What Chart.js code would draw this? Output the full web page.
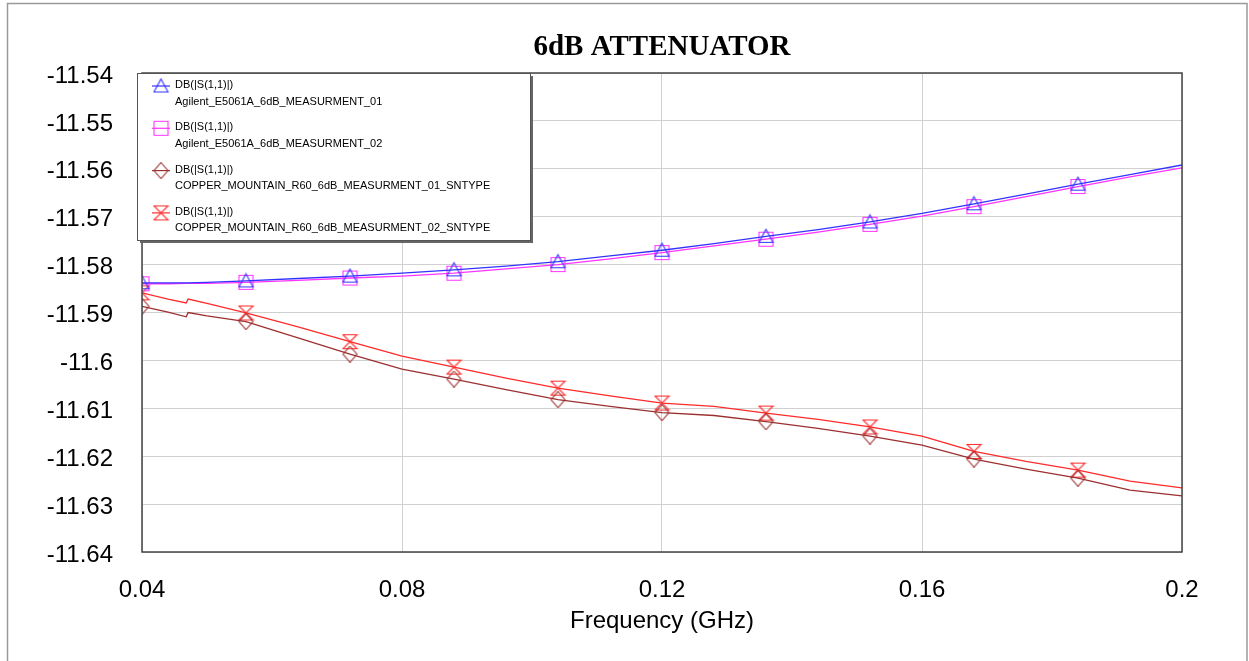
<!DOCTYPE html>
<html>
<head>
<meta charset="utf-8">
<script src="https://cdn.jsdelivr.net/npm/chart.js@4.4.1/dist/chart.umd.min.js"></script>
<style>
html,body{margin:0;padding:0;background:#fff;}
#wrap{width:1249px;height:661px;position:relative;}
canvas{display:block;}
</style>
</head>
<body>
<div id="wrap"><canvas id="c" width="1249" height="661"></canvas></div>
<script>
// ---------- data ----------
const chartTitle = '6dB ATTENUATOR';
const xAxisTitle = 'Frequency (GHz)';
const traceExpression = 'DB(|S(1,1)|)';
const seriesNames = [
  'Agilent_E5061A_6dB_MEASURMENT_01',
  'Agilent_E5061A_6dB_MEASURMENT_02',
  'COPPER_MOUNTAIN_R60_6dB_MEASURMENT_01_SNTYPE',
  'COPPER_MOUNTAIN_R60_6dB_MEASURMENT_02_SNTYPE'
];
const frequencyGHz = [0.04, 0.044, 0.0468, 0.0471, 0.05, 0.056, 0.064, 0.072, 0.08, 0.088, 0.096, 0.104,
  0.112, 0.12, 0.128, 0.136, 0.144, 0.152, 0.16, 0.168, 0.176, 0.184, 0.192, 0.2];
const agilent01 = [-11.5838, -11.5838, -11.5838, -11.5838, -11.5837, -11.5834, -11.5829, -11.5824, -11.5818, -11.5811,
  -11.5803, -11.5794, -11.5782, -11.5770, -11.5756, -11.5741, -11.5727, -11.5711, -11.5693, -11.5673, -11.5653, -11.5632, -11.5612, -11.5592];
const agilent02 = [-11.5840, -11.5840, -11.5839, -11.5839, -11.5839, -11.5837, -11.5833, -11.5828, -11.5824, -11.5818,
  -11.5809, -11.5800, -11.5788, -11.5775, -11.5761, -11.5747, -11.5732, -11.5716, -11.5699, -11.5679, -11.5658, -11.5637, -11.5617, -11.5598];
const copper01 = [-11.5887, -11.5899, -11.5909, -11.5900, -11.5907, -11.5919, -11.5953, -11.5987, -11.6018, -11.6039,
  -11.6061, -11.6082, -11.6096, -11.6109, -11.6115, -11.6128, -11.6142, -11.6158, -11.6177, -11.6206, -11.6227, -11.6246, -11.6271, -11.6283];
const copper02 = [-11.5859, -11.5872, -11.5880, -11.5872, -11.5881, -11.5901, -11.5930, -11.5961, -11.5991, -11.6014,
  -11.6037, -11.6058, -11.6074, -11.6089, -11.6096, -11.6110, -11.6123, -11.6139, -11.6158, -11.6190, -11.6211, -11.6229, -11.6252, -11.6266];
const markerFrequencies = [0.04, 0.056, 0.072, 0.088, 0.104, 0.12, 0.136, 0.152, 0.168, 0.184];
const xTicks = [0.04, 0.08, 0.12, 0.16, 0.2];
const yTicks = [-11.54, -11.55, -11.56, -11.57, -11.58, -11.59, -11.6, -11.61, -11.62, -11.63, -11.64];

// ---------- styles ----------
const colors = ['#3333ff', '#ff33ff', '#9c2f2f', '#ff2a2a'];
const shapes = ['triangle', 'square', 'diamond', 'hourglass'];

function makeMarker(shape, color) {
  const c = document.createElement('canvas');
  c.width = 17; c.height = 17;
  const g = c.getContext('2d');
  g.strokeStyle = color;
  g.lineWidth = 1.1;
  g.beginPath();
  if (shape === 'triangle') {
    g.moveTo(8.5, 1.5); g.lineTo(15.5, 14.5); g.lineTo(1.5, 14.5); g.closePath();
  } else if (shape === 'square') {
    g.rect(1.5, 1.5, 14, 14);
  } else if (shape === 'diamond') {
    g.moveTo(8.5, 0.5); g.lineTo(15.5, 8.5); g.lineTo(8.5, 16.5); g.lineTo(1.5, 8.5); g.closePath();
  } else {
    g.moveTo(1.5, 1.5); g.lineTo(15.5, 1.5); g.lineTo(1.5, 15.5); g.lineTo(15.5, 15.5); g.closePath();
  }
  g.stroke();
  return c;
}

const seriesValues = [agilent01, agilent02, copper01, copper02];
const isMarker = f => markerFrequencies.some(m => Math.abs(m - f) < 1e-9);

const datasets = seriesValues.map((vals, i) => ({
  label: seriesNames[i],
  data: frequencyGHz.map((f, k) => ({ x: f, y: vals[k] })),
  borderColor: colors[i],
  backgroundColor: colors[i],
  borderWidth: 1.3,
  tension: 0,
  pointStyle: makeMarker(shapes[i], colors[i]),
  pointRadius: ctx => (ctx.raw && isMarker(ctx.raw.x)) ? 7 : 0,
  pointHoverRadius: ctx => (ctx.raw && isMarker(ctx.raw.x)) ? 7 : 0
}));

const decor = {
  id: 'decor',
  beforeDraw(chart) {
    const ctx = chart.ctx;
    ctx.save();
    ctx.fillStyle = '#fff';
    ctx.fillRect(0, 0, chart.width, chart.height);
    ctx.strokeStyle = '#9a9a9a';
    ctx.lineWidth = 1.5;
    ctx.strokeRect(7.5, 3.5, 1239.5, 665);
    ctx.restore();
  },
  afterDatasetsDraw(chart) {
    const ctx = chart.ctx;
    const a = chart.chartArea;
    ctx.save();
    ctx.strokeStyle = '#444';
    ctx.lineWidth = 1.5;
    ctx.strokeRect(a.left, a.top, a.right - a.left, a.bottom - a.top);
    ctx.restore();
  },
  afterDraw(chart) {
    const ctx = chart.ctx;
    const a = chart.chartArea;
    ctx.save();
    // title
    ctx.fillStyle = '#000';
    ctx.font = 'bold 29px "Liberation Serif", "Times New Roman", serif';
    ctx.textAlign = 'center';
    ctx.textBaseline = 'middle';
    ctx.fillText(chartTitle, (a.left + a.right) / 2, 48);
    // legend box
    const L = 137, T = 73, R = 530, B = 240;
    ctx.fillStyle = '#666';
    ctx.fillRect(L + 3, T + 3, R - L, B - T);
    ctx.fillStyle = '#fff';
    ctx.fillRect(L, T, R - L, B - T);
    ctx.strokeStyle = '#555';
    ctx.lineWidth = 1;
    ctx.strokeRect(L + 0.5, T + 0.5, R - L, B - T);
    chart.data.datasets.forEach((ds, i) => {
      const y = 85 + 42.3 * i;
      ctx.strokeStyle = ds.borderColor;
      ctx.lineWidth = 1.2;
      ctx.beginPath();
      ctx.moveTo(152, y + 1); ctx.lineTo(170, y + 1);
      ctx.stroke();
      const img = ds.pointStyle;
      ctx.drawImage(img, 161 - img.width / 2, y + 1 - img.height / 2);
      ctx.fillStyle = '#000';
      ctx.font = '11px "Liberation Sans", Arial, sans-serif';
      ctx.textAlign = 'left';
      ctx.textBaseline = 'middle';
      ctx.fillText(traceExpression, 175, y);
      ctx.fillText(ds.label, 175, y + 16.5);
    });
    ctx.restore();
  }
};

const tickFont = { family: '"Liberation Sans", Arial, sans-serif', size: 24 };

new Chart(document.getElementById('c'), {
  type: 'line',
  data: { datasets },
  options: {
    responsive: false,
    animation: false,
    devicePixelRatio: 1,
    layout: { padding: { left: 0, right: 67, top: 73, bottom: 0 } },
    plugins: { legend: { display: false }, title: { display: false }, tooltip: { enabled: false } },
    scales: {
      x: {
        type: 'linear',
        min: 0.04, max: 0.2,
        afterBuildTicks: s => { s.ticks = xTicks.map(v => ({ value: v })); },
        afterFit: s => { s.height = 109; },
        ticks: { callback: v => String(v), font: tickFont, color: '#000', padding: 24, maxRotation: 0, autoSkip: false },
        grid: { color: '#d0d0d0', lineWidth: 1, drawTicks: false, tickLength: 0 },
        border: { display: false },
        title: { display: true, text: xAxisTitle, font: tickFont, color: '#000', padding: { top: 0, bottom: 25 } }
      },
      y: {
        type: 'linear',
        min: -11.64, max: -11.54,
        afterBuildTicks: s => { s.ticks = yTicks.map(v => ({ value: v })); },
        afterFit: s => { s.width = 142; },
        ticks: { callback: v => String(+v.toFixed(2)), font: tickFont, color: '#000', padding: 29, autoSkip: false, labelOffset: 3 },
        grid: { color: '#d0d0d0', lineWidth: 1, drawTicks: false, tickLength: 0 },
        border: { display: false }
      }
    }
  },
  plugins: [decor]
});
</script>
</body>
</html>
